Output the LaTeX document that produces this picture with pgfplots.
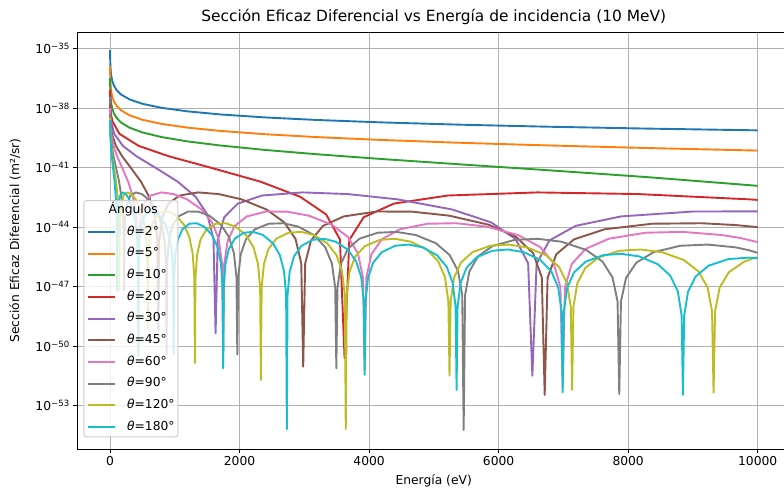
\documentclass[border=0pt]{standalone}
\usepackage{fontspec}
\setmainfont{DejaVu Sans}
\usepackage{pgfplots}
\pgfplotsset{compat=1.18}
\definecolor{c0}{HTML}{1F77B4}
\definecolor{c1}{HTML}{FF7F0E}
\definecolor{c2}{HTML}{2CA02C}
\definecolor{c3}{HTML}{D62728}
\definecolor{c4}{HTML}{9467BD}
\definecolor{c5}{HTML}{8C564B}
\definecolor{c6}{HTML}{E377C2}
\definecolor{c7}{HTML}{7F7F7F}
\definecolor{c8}{HTML}{BCBD22}
\definecolor{c9}{HTML}{17BECF}
\definecolor{gridc}{HTML}{B0B0B0}

\begin{document}
\begin{tikzpicture}[x=1pt,y=1pt]
\useasboundingbox (0,0) rectangle (784,492);
\begin{axis}[
  at={(77.3pt,43pt)}, anchor=south west,
  scale only axis, width=706.7pt, height=417pt,
  xmin=-505, xmax=10406, ymin=-55.19, ymax=-34.16,
  axis x line*=box, axis y line*=left,
  axis line style={line width=0.92pt},
  scaled x ticks=false,
  xtick={0,2000,4000,6000,8000,10000},
  xticklabels={0,2000,4000,6000,8000,10000},
  ytick={-53,-50,-47,-44,-41,-38,-35},
  yticklabels={10\textsuperscript{−53},10\textsuperscript{−50},10\textsuperscript{−47},10\textsuperscript{−44},10\textsuperscript{−41},10\textsuperscript{−38},10\textsuperscript{−35}},
  tick align=outside, xtick pos=bottom, ytick pos=left,
  major tick length=4pt,
  tick style={line width=0.92pt, black},
  ticklabel style={font=\fontsize{12.3}{14.5}\selectfont},
  grid=major, grid style={gridc, line width=0.92pt},
  title={Sección Eficaz Diferencial vs Energía de incidencia (10 MeV)},
  title style={font=\fontsize{15.4}{18}\selectfont, at={(axis description cs:0.5043,1.036)}, anchor=center, yshift=-6pt},
  xlabel={Energía (eV)},
  xlabel style={font=\fontsize{12.3}{14.5}\selectfont, at={(axis description cs:0.5043,-0.0767)}, anchor=center},
  ylabel={Sección Eficaz Diferencial (m²/sr)},
  ylabel style={font=\fontsize{12.3}{14.5}\selectfont, at={(axis description cs:-0.0882,0.5)}, anchor=center},
  every axis plot/.append style={line width=1.9pt, line join=round},
  legend image code/.code={\draw[#1] (0pt,0pt) -- (27pt,0pt);},
  legend cell align=left,
  legend style={at={(axis description cs:0.0085,0.597)}, anchor=north west,
    draw=black!20, line width=1pt, rounded corners=3pt, fill=white, fill opacity=0.8, text opacity=1,
    inner xsep=3.4pt, inner ysep=4pt, font=\fontsize{12.3}{14.5}\selectfont,
    row sep=9.97pt, nodes={inner sep=0pt, text height=9pt, text depth=2.7pt, anchor=west},
    /tikz/every odd column/.append style={column sep=11pt}},
]
\addlegendimage{empty legend}
\addlegendentry{\hspace*{-18.5pt}Ángulos}

\addplot[c0] table {
1 -35.0798
2 -35.3808
4 -35.6819
7 -35.9249
12 -36.1590
20 -36.3809
35 -36.6240
60 -36.8582
100 -37.0802
170 -37.3110
300 -37.5581
500 -37.7808
800 -37.9861
1200 -38.1637
1700 -38.3170
2400 -38.4696
3200 -38.5977
4200 -38.7198
5400 -38.8338
6700 -38.9328
8300 -39.0322
10000 -39.1200
};
\addlegendentry{\textit{θ}=2°}

\addplot[c1] table {
1 -35.8754
2 -36.1764
4 -36.4775
7 -36.7207
12 -36.9549
20 -37.1769
35 -37.4204
60 -37.6551
100 -37.8779
170 -38.1100
300 -38.3600
500 -38.5869
800 -38.7985
1200 -38.9847
1700 -39.1486
2400 -39.3162
3200 -39.4618
4200 -39.6058
5400 -39.7467
6700 -39.8752
8300 -40.0119
10000 -40.1402
};
\addlegendentry{\textit{θ}=5°}

\addplot[c2] table {
1 -36.4768
2 -36.7779
4 -37.0792
7 -37.3225
12 -37.5571
20 -37.7797
35 -38.0242
60 -38.2609
100 -38.4867
170 -38.7241
300 -38.9838
500 -39.2260
800 -39.4608
1200 -39.6787
1700 -39.8833
2400 -40.1100
3200 -40.3271
4200 -40.5668
5400 -40.8339
6700 -41.1171
8300 -41.4802
10000 -41.9180
};
\addlegendentry{\textit{θ}=10°}

\addplot[c3] table {
1 -37.0754
2 -37.3764
4 -37.6775
7 -37.9233
12 -38.1593
20 -38.3843
36.2 -38.6487
144.9 -39.2943
443.6 -39.9052
905.4 -40.4245
1530.1 -40.9806
2317.8 -41.7026
2933.4 -42.4657
3337.6 -43.3616
3549.4 -44.6169
3621.5 -50.61
3694.3 -44.6517
3917.0 -43.5006
4382.0 -42.8143
5215.0 -42.4069
6600.2 -42.2502
8148.4 -42.3330
9859.5 -42.5988
10000 -42.628
};
\addlegendentry{\textit{θ}=20°}

\addplot[c4] table {
1 -37.4230
2 -37.7249
4 -38.0276
8 -38.3322
16.3 -38.6487
65.2 -39.2943
199.7 -39.9052
407.6 -40.4245
688.8 -40.9806
1043.3 -41.7026
1320.5 -42.4657
1502.4 -43.3616
1597.8 -44.6169
1630.2 -49.35
1663.0 -44.6517
1763.2 -43.5006
1972.5 -42.8143
2347.5 -42.4069
2971.0 -42.2502
3668.0 -42.3330
4438.2 -42.5988
5281.9 -43.1113
5885.0 -43.7637
6262.6 -44.6015
6455.8 -45.8298
6520.8 -51.5
6586.2 -45.8472
6784.3 -44.6710
7189.2 -43.9376
7890.2 -43.4599
9002.8 -43.2132
10000 -43.2064
};
\addlegendentry{\textit{θ}=30°}

\addplot[c5] table {
1 -37.7636
2 -38.0666
4 -38.3715
7.5 -38.6487
29.8 -39.2943
91.3 -39.9052
186.4 -40.4245
315.1 -40.9806
477.2 -41.7026
604.0 -42.4657
687.2 -43.3616
730.9 -44.6169
745.7 -49.2
760.7 -44.6517
806.5 -43.5006
902.3 -42.8143
1073.8 -42.4069
1359.0 -42.2502
1677.8 -42.3330
2030.1 -42.5988
2416.0 -43.1113
2691.9 -43.7637
2864.7 -44.6015
2953.0 -45.8298
2982.8 -51.04
3012.7 -45.8472
3103.3 -44.6710
3288.5 -43.9376
3609.1 -43.4599
4118.1 -43.2132
4660.6 -43.2204
5236.7 -43.4219
5846.2 -43.8788
6271.3 -44.4983
6533.5 -45.3177
6666.6 -46.5371
6711.2 -52.46
6756.0 -46.5487
6891.3 -45.3640
7166.1 -44.6142
7635.9 -44.1108
8368.5 -43.8291
9134.7 -43.8049
9663.9 -43.8974
10000 -44.0012
};
\addlegendentry{\textit{θ}=45°}

\addplot[c6] table {
1 -37.9973
4.4 -38.6487
17.5 -39.2943
53.5 -39.9052
109.2 -40.4245
184.6 -40.9806
279.6 -41.7026
353.8 -42.4657
402.6 -43.3616
428.1 -44.6169
436.8 -50.3
445.6 -44.6517
472.5 -43.5006
528.5 -42.8143
629.0 -42.4069
796.1 -42.2502
982.8 -42.3330
1189.2 -42.5988
1415.3 -43.1113
1576.9 -43.7637
1678.1 -44.6015
1729.8 -45.8298
1747.2 -50.9
1764.8 -45.8472
1817.8 -44.6710
1926.3 -43.9376
2114.2 -43.4599
2412.3 -43.2132
2730.1 -43.2204
3067.5 -43.4219
3424.6 -43.8788
3673.6 -44.4983
3827.2 -45.3177
3905.1 -46.5371
3931.3 -51.2
3957.5 -46.5487
4036.9 -45.3640
4197.7 -44.6142
4472.9 -44.1108
4902.1 -43.8291
5350.9 -43.8049
5819.4 -43.9781
6307.5 -44.4093
6643.9 -45.0130
6849.9 -45.8233
6954.0 -47.0383
6989.0 -52.1
7024.0 -47.0470
7129.4 -45.8580
7342.8 -45.0998
7705.3 -44.5832
8265.6 -44.2829
8845.4 -44.2415
9444.8 -44.3987
9731.5 -44.5509
10000 -44.7549
};
\addlegendentry{\textit{θ}=60°}

\addplot[c7] table {
1 -38.3016
2.2 -38.6487
8.7 -39.2943
26.8 -39.9052
54.6 -40.4245
92.3 -40.9806
139.8 -41.7026
176.9 -42.4657
201.3 -43.3616
214.1 -44.6169
218.4 -47.2
222.8 -44.6517
236.2 -43.5006
264.3 -42.8143
314.5 -42.4069
398.0 -42.2502
491.4 -42.3330
594.6 -42.5988
707.6 -43.1113
788.4 -43.7637
839.0 -44.6015
864.9 -45.8298
873.6 -50.45
882.4 -45.8472
908.9 -44.6710
963.1 -43.9376
1057.1 -43.4599
1206.1 -43.2132
1365.0 -43.2204
1533.7 -43.4219
1712.3 -43.8788
1836.7 -44.4983
1913.5 -45.3177
1952.5 -46.5371
1965.6 -50.42
1978.7 -46.5487
2018.4 -45.3640
2098.8 -44.6142
2236.4 -44.1108
2451.0 -43.8291
2675.4 -43.8049
2909.6 -43.9781
3153.7 -44.4093
3321.9 -45.0130
3424.9 -45.8233
3477.0 -47.0383
3494.4 -51.12
3511.9 -47.0470
3564.6 -45.8580
3671.3 -45.0998
3852.6 -44.5832
4132.7 -44.2829
4422.6 -44.2415
4722.4 -44.3987
5031.9 -44.8152
5243.8 -45.4095
5373.0 -46.2144
5438.2 -47.4268
5460.0 -54.23
5481.9 -47.4338
5547.7 -46.2422
5680.6 -45.4790
5905.5 -44.9542
6251.2 -44.6423
6606.6 -44.5901
6971.9 -44.7371
7347.0 -45.1439
7602.5 -45.7321
7757.9 -46.5335
7836.2 -47.7441
7862.4 -52.43
7888.6 -47.7499
7967.6 -46.5567
8126.7 -45.7900
8395.3 -45.2598
8806.4 -44.9400
9227.4 -44.8803
9658.2 -45.0202
9862.6 -45.1646
10000 -45.299
};
\addlegendentry{\textit{θ}=90°}

\addplot[c8] table {
1 -38.4809
1.5 -38.6487
5.8 -39.2943
17.8 -39.9052
36.4 -40.4245
61.5 -40.9806
93.2 -41.7026
117.9 -42.4657
134.2 -43.3616
142.7 -44.6169
145.6 -47.2
148.5 -44.6517
157.5 -43.5006
176.2 -42.8143
209.7 -42.4069
265.4 -42.2502
327.6 -42.3330
396.4 -42.5988
471.7 -43.1113
525.6 -43.7637
559.3 -44.6015
576.6 -45.8298
582.4 -49.1
588.2 -45.8472
605.9 -44.6710
642.1 -43.9376
704.7 -43.4599
804.1 -43.2132
910.0 -43.2204
1022.5 -43.4219
1141.5 -43.8788
1224.5 -44.4983
1275.7 -45.3177
1301.7 -46.5371
1310.4 -50.85
1319.2 -46.5487
1345.6 -45.3640
1399.2 -44.6142
1490.9 -44.1108
1634.0 -43.8291
1783.6 -43.8049
1939.8 -43.9781
2102.5 -44.4093
2214.6 -45.0130
2283.2 -45.8233
2318.0 -47.0383
2329.6 -51.71
2341.3 -47.0470
2376.4 -45.8580
2447.5 -45.0998
2568.4 -44.5832
2755.1 -44.2829
2948.4 -44.2415
3148.2 -44.3987
3354.6 -44.8152
3495.9 -45.4095
3582.0 -46.2144
3625.5 -47.4268
3640.0 -54.19
3654.6 -47.4338
3698.5 -46.2422
3787.1 -45.4790
3937.0 -44.9542
4167.4 -44.6423
4404.4 -44.5901
4647.9 -44.7371
4898.0 -45.1439
5068.3 -45.7321
5171.9 -46.5335
5224.1 -47.7441
5241.6 -51.49
5259.1 -47.7499
5311.7 -46.5567
5417.8 -45.7900
5596.9 -45.2598
5871.0 -44.9400
6151.6 -44.8803
6438.8 -45.0202
6732.5 -45.4202
6932.0 -46.0041
7053.1 -46.8029
7114.0 -48.0123
7134.4 -52.21
7154.8 -48.0173
7216.2 -46.8228
7339.7 -46.0537
7547.9 -45.5195
7865.7 -45.1941
8190.0 -45.1289
8520.9 -45.2635
8858.3 -45.6586
9086.9 -46.2392
9225.5 -47.0362
9295.1 -48.2446
9318.4 -52.35
9341.7 -48.2489
9411.8 -47.0535
9552.8 -46.2826
9790.1 -45.7455
9909.9 -45.5954
10000 -45.5125
};
\addlegendentry{\textit{θ}=120°}

\addplot[c9] table {
1 -38.6092
4.4 -39.2943
13.4 -39.9052
27.3 -40.4245
46.1 -40.9806
69.9 -41.7026
88.5 -42.4657
100.6 -43.3616
107.0 -44.6169
109.2 -47.2
111.4 -44.6517
118.1 -43.5006
132.1 -42.8143
157.3 -42.4069
199.0 -42.2502
245.7 -42.3330
297.3 -42.5988
353.8 -43.1113
394.2 -43.7637
419.5 -44.6015
432.4 -45.8298
436.8 -50.5
441.2 -45.8472
454.5 -44.6710
481.6 -43.9376
528.5 -43.4599
603.1 -43.2132
682.5 -43.2204
766.9 -43.4219
856.1 -43.8788
918.4 -44.4983
956.8 -45.3177
976.3 -46.5371
982.8 -50.4
989.4 -46.5487
1009.2 -45.3640
1049.4 -44.6142
1118.2 -44.1108
1225.5 -43.8291
1337.7 -43.8049
1454.8 -43.9781
1576.9 -44.4093
1660.9 -45.0130
1712.4 -45.8233
1738.5 -47.0383
1747.2 -51.12
1756.0 -47.0470
1782.3 -45.8580
1835.7 -45.0998
1926.3 -44.5832
2066.3 -44.2829
2211.3 -44.2415
2361.2 -44.3987
2516.0 -44.8152
2621.9 -45.4095
2686.5 -46.2144
2719.1 -47.4268
2730.0 -54.19
2740.9 -47.4338
2773.9 -46.2422
2840.3 -45.4790
2952.8 -44.9542
3125.6 -44.6423
3303.3 -44.5901
3485.9 -44.7371
3673.5 -45.1439
3801.3 -45.7321
3879.0 -46.5335
3918.1 -47.7441
3931.2 -51.45
3944.3 -47.7499
3983.8 -46.5567
4063.3 -45.7900
4197.7 -45.2598
4403.2 -44.9400
4613.7 -44.8803
4829.1 -45.0202
5049.4 -45.4202
5199.0 -46.0041
5289.8 -46.8029
5335.5 -48.0123
5350.8 -52.21
5366.1 -48.0173
5412.1 -46.8228
5504.8 -46.0537
5660.9 -45.5195
5899.3 -45.1941
6142.5 -45.1289
6390.7 -45.2635
6643.7 -45.6586
6815.2 -46.2392
6919.1 -47.0362
6971.3 -48.2446
6988.8 -52.33
7006.3 -48.2489
7058.9 -47.0535
7164.6 -46.2826
7342.6 -45.7455
7613.7 -45.4157
7889.7 -45.3463
8170.6 -45.4770
8456.5 -45.8681
8649.7 -46.4463
8766.8 -47.2417
8825.6 -48.4494
8845.2 -52.46
8864.9 -48.4533
8924.0 -47.2572
9042.9 -46.4849
9242.7 -45.9454
9546.5 -45.6122
9855.3 -45.5395
10000 -45.5726
};
\addlegendentry{\textit{θ}=180°}
\end{axis}
\end{tikzpicture}
\end{document}
